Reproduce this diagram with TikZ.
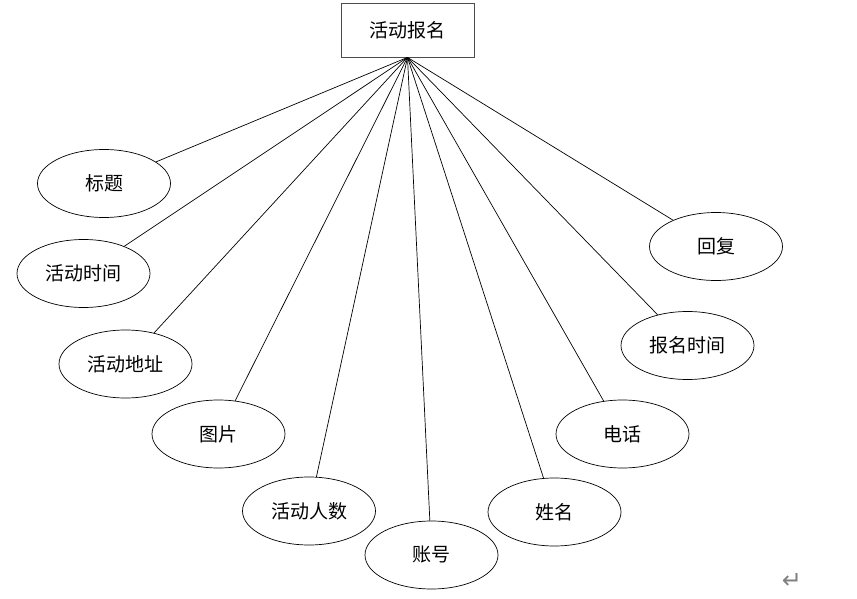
\documentclass[tikz,border=0pt]{standalone}
\usepackage{fontspec}
\newfontfamily\cjk{Noto Sans CJK SC}
\newfontfamily\symfont{DejaVu Sans}
\usetikzlibrary{shapes.geometric}
\tikzset{
  ent/.style={draw=black!70, line width=0.8pt, minimum width=133pt, minimum height=54pt, inner sep=0pt, font=\cjk\fontsize{19}{19}\selectfont},
  attr/.style={draw=black, line width=0.7pt, ellipse, minimum width=133pt, minimum height=68pt, inner sep=0pt, font=\cjk\fontsize{19}{19}\selectfont},
  link/.style={draw=black, line width=0.7pt}
}
\begin{document}
\begin{tikzpicture}[x=1pt,y=-1pt]
\useasboundingbox (0,0) rectangle (857,599);
\fill[white] (0,0) rectangle (857,599);
\node[ent] (main) at (407.5,30) {活动报名};
\node[attr] (a1) at (104,183.5) {标题};
\node[attr] (a2) at (83.5,273.5) {活动时间};
\node[attr] (a3) at (125.5,364) {活动地址};
\node[attr] (a4) at (218.5,434) {图片};
\node[attr] (a5) at (309,511) {活动人数};
\node[attr] (a6) at (431.5,555) {账号};
\node[attr] (a7) at (554.5,512) {姓名};
\node[attr] (a8) at (622.5,434) {电话};
\node[attr] (a9) at (687.5,345.5) {报名时间};
\node[attr] (a10) at (716,246.5) {回复};
\foreach \i in {1,...,10} {\draw[link] (main.south) -- (a\i);}
\node[text=black!50, font=\symfont\fontsize{24}{24}\selectfont, inner sep=0pt] (ret) at (792,581) {↵};
\end{tikzpicture}
\end{document}
